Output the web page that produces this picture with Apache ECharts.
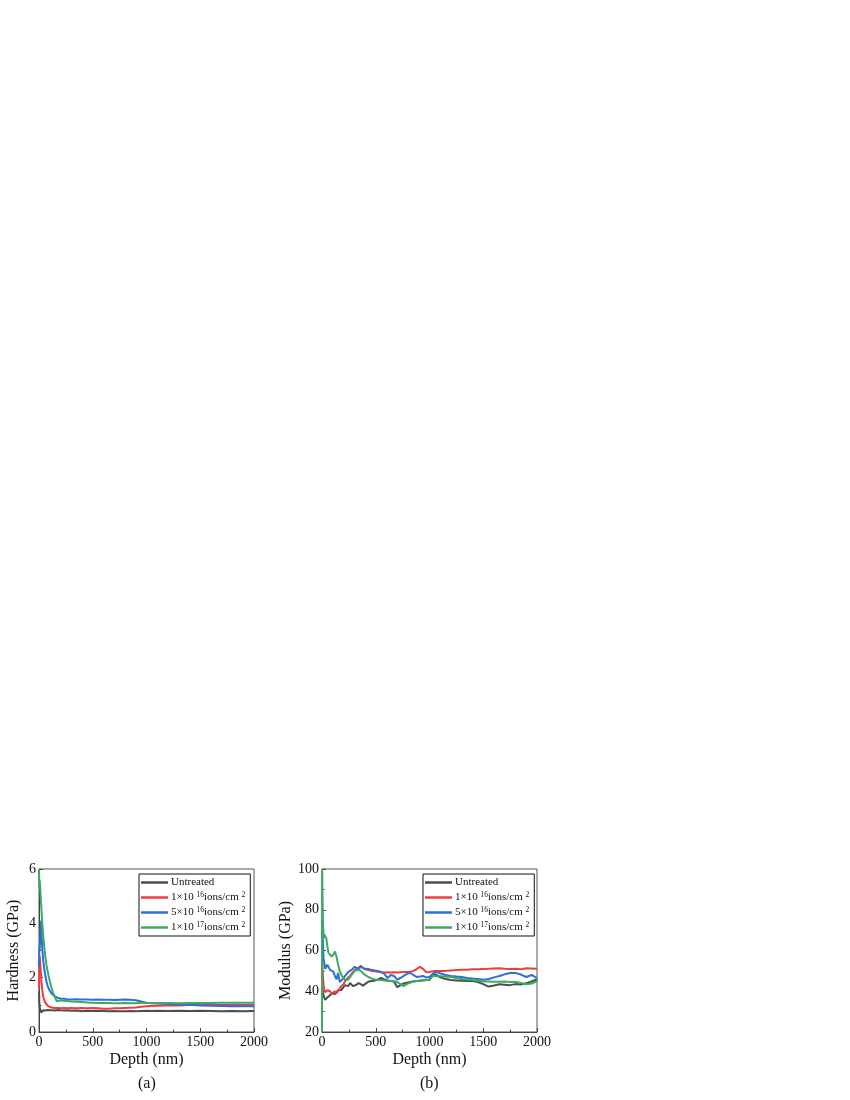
<!DOCTYPE html>
<html>
<head>
<meta charset="utf-8">
<script src="https://cdn.jsdelivr.net/npm/echarts@6/dist/echarts.min.js"></script>
<style>html,body{margin:0;padding:0;background:#fff}#c{width:850px;height:1100px}</style>
</head>
<body>
<div id="c"></div>
<script>
// ---------- DATA ----------
var seriesNames = ['Untreated', '1×10¹⁶ions/cm²', '5×10¹⁶ions/cm²', '1×10¹⁷ions/cm²'];
var legendRich = ['Untreated', '1×10 {s|16}ions/cm {s|2}', '5×10 {s|16}ions/cm {s|2}', '1×10 {s|17}ions/cm {s|2}'];
var colors = ['#4d4d4d', '#f03c3c', '#2e6fdc', '#3aab62'];

var xTicks = [0, 500, 1000, 1500, 2000];

// Hardness (GPa) vs depth (nm)
var hardDepth = [0,3,6,10,15,20,25,30,40,50,
  60,70,80,90,100,115,130,150,165,180,
  200,230,260,300,350,400,450,500,550,600,
  650,700,750,800,850,900,950,1000,1050,1100,
  1200,1300,1400,1500,1600,1700,1800,1900,2000];
var hardUntreated = [1.5,1.1,0.95,0.85,0.8,0.72,0.7,0.74,0.8,0.77,
  0.79,0.78,0.81,0.79,0.8,0.78,0.8,0.79,0.8,0.81,
  0.8,0.79,0.8,0.78,0.79,0.76,0.78,0.77,0.78,0.77,
  0.76,0.77,0.76,0.76,0.77,0.76,0.77,0.78,0.77,0.78,
  0.77,0.78,0.77,0.78,0.77,0.76,0.77,0.76,0.77];
var hard1e16 = [1.6,2.5,2.8,2.6,2.3,2.0,1.75,1.55,1.3,1.15,
  1.07,1.0,0.97,0.94,0.92,0.9,0.89,0.88,0.87,0.88,
  0.87,0.88,0.87,0.88,0.87,0.88,0.87,0.88,0.87,0.86,
  0.86,0.87,0.87,0.88,0.89,0.9,0.93,0.95,0.96,0.97,
  0.98,0.98,0.99,1.0,1.0,0.99,1.0,0.99,1.0];
var hard5e16 = [2.4,3.1,3.0,3.3,3.8,4.1,3.6,3.1,2.6,2.3,
  2.05,1.85,1.7,1.6,1.52,1.43,1.37,1.3,1.27,1.25,
  1.23,1.22,1.21,1.2,1.21,1.2,1.2,1.19,1.2,1.19,
  1.19,1.18,1.19,1.2,1.19,1.17,1.12,1.08,1.06,1.05,
  1.03,1.01,1.0,0.98,0.97,0.96,0.95,0.95,0.95];
var hard1e17 = [6.0,5.3,5.6,5.4,5.0,4.7,4.35,4.0,3.5,3.1,
  2.75,2.45,2.25,2.05,1.88,1.65,1.45,1.27,1.13,1.18,
  1.17,1.15,1.14,1.12,1.11,1.1,1.09,1.08,1.07,1.07,
  1.07,1.06,1.06,1.07,1.06,1.06,1.07,1.07,1.07,1.07,
  1.07,1.06,1.07,1.07,1.07,1.08,1.08,1.08,1.08];

// Modulus (GPa) vs depth (nm)
var modDepth = [0,2,5,10,15,20,30,40,50,60,
  75,90,105,120,135,150,165,180,200,215,
  230,245,260,275,290,305,320,340,360,380,
  400,430,460,490,520,550,580,610,640,670,
  700,730,760,790,820,850,880,910,940,970,
  1000,1030,1060,1100,1150,1200,1250,1300,1350,1400,
  1450,1500,1550,1600,1650,1700,1750,1800,1850,1900,
  1950,2000];
var modUntreated = [40,42,40,39,38.5,37,35.8,36,37,37.3,
  38,39,38.5,38.6,39,40.5,40,40.6,42,43,
  42.3,42.5,44,43.8,42.5,42.2,43.2,44,43.5,42.8,
  43.5,44.7,45,45.2,45.8,46.5,45.8,45.3,45,44.8,
  42,43,43.8,44.2,44.5,44.8,45,45.2,45.4,45.5,
  45.7,48,48.2,46.8,46,45.5,45.3,45.1,45,45,
  44.5,43.5,42.3,42.8,43.4,43.2,43,43.5,43.3,44,
  44.8,45.9];
var mod1e16 = [75,62,52,46,43,41,39.5,39,40.5,41.4,
  40,39,38.5,40,39,40,41.5,42.5,43.5,45,
  46,46.5,47.5,48.5,49.5,50.5,51,51.5,52.5,51.5,
  50.8,50.4,50,49.8,49.6,49.3,49.2,49.3,49.2,49.3,
  49.2,49.3,49.4,49.5,49.6,50,50.8,52,51,49.3,
  49.5,49.8,50,50,50,50.2,50.4,50.5,50.6,50.8,
  50.8,50.9,51,51.2,51.3,51,50.9,51,50.8,51.3,
  51.2,51];
var mod5e16 = [60,75,70,62,56,54.5,51,51,53,52.5,
  50.5,50,49.6,47.5,45.8,49,44.5,44.5,46.5,47.5,
  48.5,49.5,50,50.5,51,52,51.5,51,52,51.5,
  51,50.9,50.5,50.2,50,49.5,48.5,46.5,48,47.5,
  45.7,46.5,47.5,48.5,49.1,48,47,47.2,47.5,46.8,
  47,48.5,49.5,48.8,48,47.5,47.2,47,46.5,46.2,
  46,45.7,46,46.8,47.5,48.3,49,49,48.2,47,
  48,46.5];
var mod1e17 = [20,100,85,72,66,68,68,66,62,59,
  58,57,58,59.5,57,53,50,48,46.5,45.5,
  45.5,45.8,46.5,48,49,50,50.5,50.5,50,49,
  48,47,46.3,45.8,45.5,45.5,45.3,45.2,45,45,
  44.5,43.5,42.5,43.5,44.2,44.8,45,45.2,45.3,45.5,
  45.5,47.6,47.5,47.4,47.2,47,46.5,46,45.8,45.5,
  45.2,44.8,44.8,44.7,44.7,44.8,44.6,44.5,44,43.4,
  43.8,45];

// ---------- CHART ----------
function pairs(xs, ys) { return xs.map(function (x, i) { return [x, ys[i]]; }); }
var hardSets = [hardUntreated, hard1e16, hard5e16, hard1e17];
var modSets = [modUntreated, mod1e16, mod5e16, mod1e17];
var FONT = '"Liberation Serif", "Times New Roman", serif';

function xAxisCfg(gi) {
  return {
    gridIndex: gi, type: 'value', min: xTicks[0], max: xTicks[xTicks.length - 1], interval: xTicks[1] - xTicks[0],
    name: 'Depth (nm)', nameLocation: 'middle', nameGap: 20,
    nameTextStyle: { fontFamily: FONT, fontSize: 16, color: '#111' },
    axisLine: { show: true, lineStyle: { color: '#444', width: 1 } },
    axisTick: { show: true, inside: true, length: 4, lineStyle: { color: '#444' } },
    minorTick: { show: true, splitNumber: 2, length: 2.5, lineStyle: { color: '#444' } },
    splitLine: { show: false },
    axisLabel: { fontFamily: FONT, fontSize: 14, color: '#111', margin: 3,
      formatter: function (v) { return String(v); } }
  };
}
function yAxisCfg(gi, min, max, itv, name, gap) {
  return {
    gridIndex: gi, type: 'value', min: min, max: max, interval: itv,
    name: name, nameLocation: 'middle', nameGap: gap,
    nameTextStyle: { fontFamily: FONT, fontSize: 16, color: '#111' },
    axisLine: { show: true, lineStyle: { color: '#444', width: 1 } },
    axisTick: { show: true, inside: true, length: 4, lineStyle: { color: '#444' } },
    minorTick: { show: true, splitNumber: 2, length: 2.5, lineStyle: { color: '#444' } },
    splitLine: { show: false },
    axisLabel: { fontFamily: FONT, fontSize: 14, color: '#111', margin: 3,
      formatter: function (v) { return String(v); } }
  };
}
function legendCfg(left) {
  return {
    orient: 'vertical', left: left, top: 874,
    data: seriesNames.map(function (n) { return { name: n, icon: 'rect' }; }),
    itemWidth: 27, itemHeight: 2.5, itemGap: 2,
    padding: [2, 5, 2, 2],
    borderColor: '#111', borderWidth: 1,
    selectedMode: false,
    formatter: function (name) { return legendRich[seriesNames.indexOf(name)]; },
    textStyle: {
      fontFamily: FONT, fontSize: 11, color: '#111', lineHeight: 13, padding: [0, 0, 0, -2],
      rich: { s: { fontFamily: FONT, fontSize: 7.5, lineHeight: 13, verticalAlign: 'top', color: '#111' } }
    }
  };
}

var series = [];
seriesNames.forEach(function (n, i) {
  series.push({ name: n, type: 'line', xAxisIndex: 0, yAxisIndex: 0, showSymbol: false, symbol: 'none',
    data: pairs(hardDepth, hardSets[i]), lineStyle: { color: colors[i], width: 2 }, itemStyle: { color: colors[i] } });
});
seriesNames.forEach(function (n, i) {
  series.push({ name: n, type: 'line', xAxisIndex: 1, yAxisIndex: 1, showSymbol: false, symbol: 'none',
    data: pairs(modDepth, modSets[i]), lineStyle: { color: colors[i], width: 2 }, itemStyle: { color: colors[i] } });
});

var chart = echarts.init(document.getElementById('c'), null, { renderer: 'canvas' });
chart.setOption({
  animation: false,
  backgroundColor: '#fff',
  grid: [
    { left: 39, top: 869, width: 215, height: 163, show: true, borderColor: '#555', borderWidth: 1 },
    { left: 322, top: 869, width: 215, height: 163, show: true, borderColor: '#555', borderWidth: 1 }
  ],
  xAxis: [xAxisCfg(0), xAxisCfg(1)],
  yAxis: [yAxisCfg(0, 0, 6, 2, 'Hardness (GPa)', 17), yAxisCfg(1, 20, 100, 20, 'Modulus (GPa)', 24)],
  legend: [legendCfg(139), legendCfg(423)],
  graphic: [
    { type: 'text', left: 138, top: 1076, style: { text: '(a)', font: '16px ' + FONT, fill: '#111' } },
    { type: 'text', left: 420, top: 1076, style: { text: '(b)', font: '16px ' + FONT, fill: '#111' } }
  ],
  series: series
});
</script>
</body>
</html>
